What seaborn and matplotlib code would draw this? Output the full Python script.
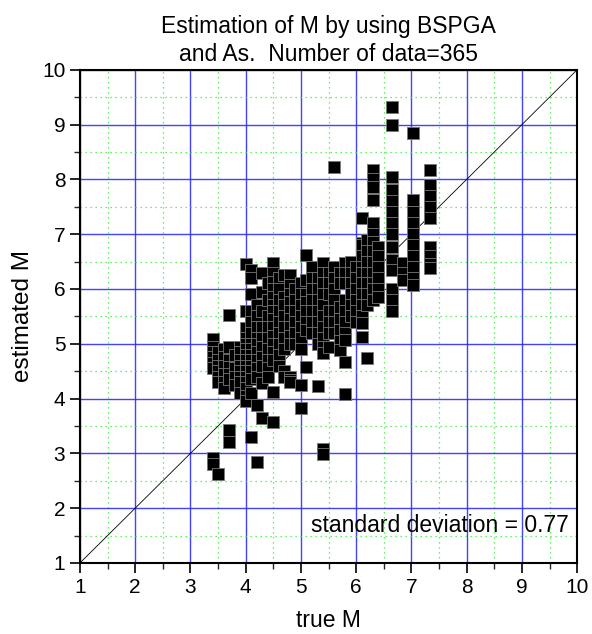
import numpy as np
import pandas as pd
import matplotlib
matplotlib.use("Agg")
import matplotlib.pyplot as plt
import seaborn as sns
from matplotlib.ticker import MultipleLocator

# true M of each column of points
col_true = [3.4, 3.5, 3.6, 3.7, 3.8, 3.9, 4.0, 4.1, 4.2, 4.3, 4.4, 4.5,
            4.6, 4.7, 4.8, 4.9, 5.0, 5.1, 5.2, 5.3, 5.4, 5.5, 5.6, 5.7,
            5.8, 5.9, 6.0, 6.1, 6.2, 6.3, 6.4, 6.65, 6.85, 7.03, 7.33]

# estimated M values in each column
col_est = [
    [5.08, 4.95, 4.85, 4.75, 4.65, 4.55, 2.92, 2.80],
    [4.85, 4.7, 4.6, 4.5, 4.4, 4.3, 2.62],
    [4.9, 4.75, 4.6, 4.45, 4.3, 4.2],
    [5.52, 4.95, 4.7, 4.58, 4.45, 4.35, 3.42, 3.2],
    [4.8, 4.55, 4.4, 4.25],
    [4.95, 4.85, 4.7, 4.6, 4.5, 4.4, 4.3, 4.1],
    [6.45, 5.6, 5.28, 5.1, 5.0, 4.9, 4.8, 4.7, 4.6, 4.5, 4.4, 4.3, 4.2, 4.05, 3.95],
    [6.35, 6.2, 5.9, 5.6, 5.4, 5.2, 5.0, 4.9, 4.8, 4.7, 4.6, 4.5, 4.35, 4.1, 3.3],
    [5.7, 5.5, 5.3, 5.1, 5.0, 4.85, 4.7, 4.55, 4.4, 3.88, 2.85],
    [6.3, 5.95, 5.6, 5.3, 5.1, 4.95, 4.75, 4.6, 4.28, 3.65],
    [6.1, 5.8, 5.5, 5.3, 5.1, 4.9, 4.7, 4.55, 4.4],
    [6.47, 6.3, 6.13, 6.0, 5.85, 5.7, 5.6, 5.45, 5.3, 5.15, 5.0, 4.85, 4.7, 4.12, 3.58],
    [6.2, 6.0, 5.8, 5.6, 5.4, 5.2, 5.0, 4.8, 4.6],
    [6.25, 5.85, 5.7, 5.5, 5.3, 5.1, 4.9, 4.5, 4.4],
    [6.25, 6.07, 5.9, 5.76, 5.6, 5.45, 5.3, 5.15, 5.0, 4.4, 4.34, 4.3],
    [6.0, 5.8, 5.6, 5.4, 5.2, 5.0],
    [6.1, 5.9, 5.7, 5.5, 5.3, 5.1, 4.9, 4.25, 3.83],
    [6.62, 6.16, 5.9, 5.76, 5.6, 5.4, 5.25, 4.58],
    [6.4, 6.2, 6.0, 5.8, 5.6, 5.4, 5.2],
    [6.2, 6.0, 5.8, 5.6, 5.4, 5.2, 5.0, 4.23],
    [6.47, 6.3, 6.1, 5.9, 5.7, 5.5, 5.3, 5.1, 4.95, 4.83, 3.08, 2.98],
    [6.3, 6.1, 5.9, 5.6, 5.4, 5.2, 4.95],
    [8.22, 6.4, 6.2, 6.0, 5.8, 5.6, 5.4, 5.2],
    [6.3, 6.1, 5.67, 5.45, 5.25, 5.05, 4.88],
    [6.47, 6.3, 6.1, 5.8, 5.6, 5.4, 5.2, 5.07, 4.67, 4.08],
    [6.5, 6.3, 6.1, 5.9, 5.7, 5.5],
    [6.4, 6.2, 6.0, 5.8, 5.6, 5.4],
    [7.3, 6.84, 6.8, 6.6, 6.4, 6.3, 6.1, 5.9, 5.7, 5.5, 5.38, 5.12],
    [6.9, 6.7, 6.5, 6.3, 6.1, 5.9, 5.7, 4.74],
    [8.17, 8.0, 7.86, 7.62, 7.2, 7.0, 6.85, 6.7, 6.5, 6.3, 6.1, 6.0, 5.8],
    [6.77, 6.6, 6.4, 6.2, 6.0, 5.85],
    [9.32, 9.0, 8.04, 7.8, 7.6, 7.4, 7.2, 7.0, 6.77, 6.53, 6.35, 6.0, 5.8, 5.6],
    [6.47, 6.3, 6.16],
    [8.85, 7.62, 7.4, 7.2, 7.0, 6.8, 6.6, 6.4, 6.2, 6.07],
    [8.17, 7.9, 7.7, 7.5, 7.3, 6.77, 6.6, 6.45, 6.38],
]

axis_ticks = list(range(1, 11))
title_text = "Estimation of M by using BSPGA\nand As.  Number of data=365"
sd_text = "standard deviation = 0.77"

rows = []
for x, ys in zip(col_true, col_est):
    for y in ys:
        rows.append((x, y))
df = pd.DataFrame(rows, columns=["true_m", "est_m"])

sns.set_style("white")
plt.rcParams["font.family"] = ["Liberation Sans", "DejaVu Sans"]
plt.rcParams["text.color"] = "black"
plt.rcParams["axes.labelcolor"] = "black"

fig = plt.figure(figsize=(5.92, 6.34), dpi=100)
ax = fig.add_axes([0.135, 0.112, 0.84, 0.778])

# grid: blue major, green dotted minor
ax.set_xlim(1, 10)
ax.set_ylim(1, 10)
ax.xaxis.set_major_locator(MultipleLocator(1))
ax.yaxis.set_major_locator(MultipleLocator(1))
ax.xaxis.set_minor_locator(MultipleLocator(0.5))
ax.yaxis.set_minor_locator(MultipleLocator(0.5))
ax.grid(True, which="major", color="#2222ff", linewidth=1.0, alpha=0.85)
ax.grid(True, which="minor", color="#33ee33", linewidth=0.9, linestyle=(0, (1, 3)))
ax.set_axisbelow(True)

ax.plot([1, 10], [1, 10], color="black", linewidth=0.6, zorder=2)

sns.scatterplot(data=df, x="true_m", y="est_m", marker="s", s=68,
                color="black", edgecolor="#777777", linewidth=0.6,
                ax=ax, zorder=3)

ax.set_xticks(axis_ticks)
ax.set_yticks(axis_ticks)
ax.tick_params(which="major", direction="out", length=7, width=1.2,
               labelsize=15, colors="black", bottom=True, left=True)
ax.tick_params(which="minor", direction="out", length=4, width=1.0,
               bottom=True, left=True)
for sp in ax.spines.values():
    sp.set_color("black")
    sp.set_linewidth(1.5)

ax.set_xlabel("true M", fontsize=16.5, labelpad=9)
ax.set_ylabel("estimated M", fontsize=17.5, labelpad=6)
ax.set_title(title_text, fontsize=16.5, loc="center", pad=6, linespacing=1.3)

ax.text(9.84, 1.69, sd_text, fontsize=16.5, ha="right", va="center")

fig.savefig("out.png", dpi=100)
